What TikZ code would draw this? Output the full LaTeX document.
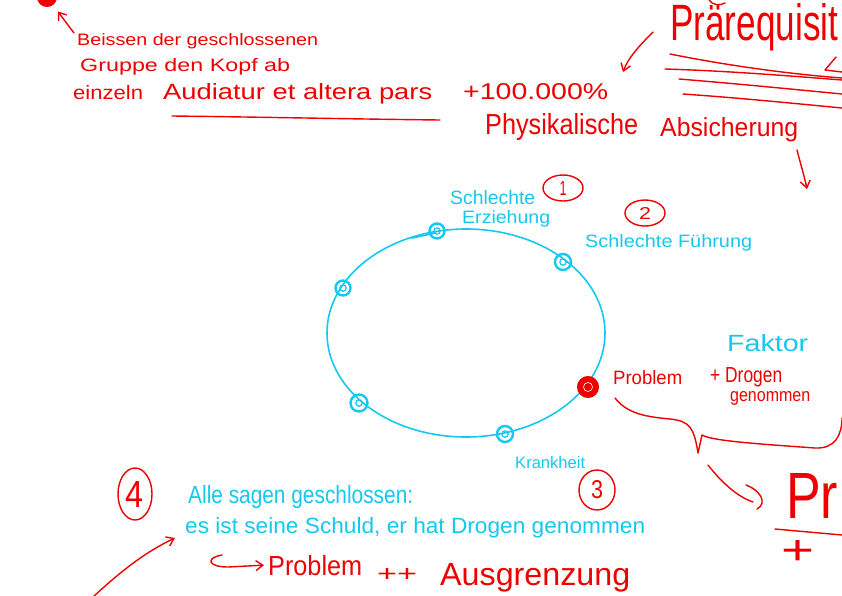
\documentclass[tikz,border=0pt]{standalone}
\usepackage{fontspec}
\setmainfont{Liberation Sans}
\usepackage{graphicx}
\usetikzlibrary{arrows.meta,shapes.geometric}
\definecolor{inkred}{RGB}{238,0,0}
\definecolor{inkcyan}{RGB}{20,200,240}
\newcommand\hw[3]{\resizebox{#1pt}{#2pt}{#3}}
\begin{document}
\begin{tikzpicture}[x=1pt,y=-1pt,
  txt/.style={inner sep=0pt, anchor=base west},
  rtxt/.style={txt, text=inkred},
  ctxt/.style={txt, text=inkcyan},
  rline/.style={draw=inkred, line width=1.4pt, line cap=round, line join=round},
  cline/.style={draw=inkcyan, line width=1.6pt, line cap=round},
  arr/.style={rline, -{Straight Barb[length=7pt,width=10pt]}},
  cdot/.style={circle, draw=inkcyan, line width=2.4pt, minimum size=15pt, inner sep=0pt},
  rdot/.style={circle, draw=inkred, fill=inkred, line width=2pt, minimum size=20pt, inner sep=0pt},
  numring/.style={ellipse, draw=inkred, line width=1.4pt, inner sep=0pt, text=inkred}]
\useasboundingbox (0,0) rectangle (842,595);
\clip (0,0) rectangle (842,595);

% top-left notes
\node[rdot, minimum size=18pt] (blob) at (47,-3) {};
\node[rtxt] (t1) at (77,45) {\hw{241}{12}{Beissen der geschlossenen}};
\node[rtxt] (t2) at (80,71) {\hw{210}{13}{Gruppe den Kopf ab}};
\node[rtxt] (t3a) at (73,99) {\hw{70}{14}{einzeln}};
\node[rtxt] (t3b) at (163,99) {\hw{269}{16}{Audiatur et altera pars}};
\node[rtxt] (t3c) at (463,99) {\hw{145}{16}{+100.000\%}};
\coordinate (a1) at (74,33);
\draw[arr, shorten >=8pt] (a1) -- (blob);
\draw[rline] (172,116) .. controls (260,117) and (350,119) .. (440,120);

% Praerequisit
\node[rtxt] (pre) at (670,40) {\hw{168}{37}{Prärequisit}};
\draw[rline] (709,0) .. controls (712,5) and (720,6) .. (725,3);
\draw[rline] (670,54) .. controls (730,66) and (790,74) .. (842,78);
\draw[rline] (665,69) .. controls (730,71) and (790,76) .. (842,80);
\draw[rline] (679,79) .. controls (740,84) and (790,89) .. (842,94);
\draw[rline] (683,94) .. controls (740,98) and (790,103) .. (842,108);
\draw[rline] (836,57) -- (825,70) -- (842,72);
\coordinate (p1) at (653,32);
\coordinate (p2) at (623,72);
\draw[arr] (p1) .. controls (640,45) and (628,58) .. (p2);

\node[rtxt] (t4a) at (485,134) {\hw{153}{21}{Physikalische}};
\node[rtxt] (t4b) at (660,136) {\hw{138}{19}{Absicherung}};
\coordinate (q1) at (797,150);
\coordinate (q2) at (807,189);
\draw[arr] (q1) .. controls (800,162) and (804,175) .. (q2);

% cycle
\draw[cline] (466,333) ellipse [x radius=139, y radius=104];
\draw[cline] (412,238) -- (436,233);
\node[cdot] (d1) at (437,231) {};
\node[cdot, minimum size=16pt] (d2) at (563,262) {};
\node[cdot] (d3) at (343,288) {};
\node[cdot, minimum size=17pt] (d4) at (359,403) {};
\node[cdot, minimum size=16pt] (d5) at (505,434) {};
\node[rdot] (d6) at (588,387) {};
\foreach \n in {d1,d2,d3,d4,d5} \draw[inkcyan, line width=1.2pt] (\n) circle[radius=3.2];
\draw[white, line width=0.6pt] (d6) circle[radius=4.5];

\node[ctxt] (l1a) at (450,204) {\hw{85}{14}{Schlechte}};
\node[ctxt] (l1b) at (462,223) {\hw{88}{13}{Erziehung}};
\node[numring, minimum width=40pt, minimum height=26pt] (n1) at (563,188) {\hw{7}{14}{1}};
\node[numring, minimum width=40pt, minimum height=26pt] (n2) at (645,213) {\hw{12}{12}{2}};
\node[ctxt] (l2) at (585,247) {\hw{167}{13}{Schlechte Führung}};
\node[ctxt] (l5) at (515,468) {\hw{70}{12}{Krankheit}};
\node[numring, minimum width=36pt, minimum height=40pt] (n3) at (597,490) {\hw{12}{18}{3}};
\node[numring, minimum width=34pt, minimum height=52pt] (n4) at (135,494) {\hw{18}{26}{4}};

% right side
\node[ctxt] (fak) at (727,351) {\hw{81}{17}{Faktor}};
\node[rtxt] (prob) at (613,384) {\hw{69}{14}{Problem}};
\node[rtxt] (drog) at (710,382) {\hw{72}{15}{+ Drogen}};
\node[rtxt] (gen) at (730,401) {\hw{80}{10}{genommen}};
\draw[rline] (615,398) .. controls (628,415) and (650,417) .. (670,419)
  .. controls (690,421) and (694,428) .. (698,453) -- (702,435)
  .. controls (712,441) and (760,444) .. (815,448)
  .. controls (835,449) and (842,435) .. (842,418);
\node[rtxt] (bigpr) at (786,518) {\hw{52}{45}{Pr}};
\coordinate (r1) at (708,465);
\draw[rline] (r1) .. controls (722,483) and (738,497) .. (753,502);
\draw[rline] (746,485) .. controls (760,490) and (768,503) .. (757,509);
\draw[rline] (775,529) -- (842,535);
\node[rtxt] (plus) at (781,564) {\hw{33}{24}{+}};

% bottom
\node[ctxt] (s1) at (188,503) {\hw{225}{18}{Alle sagen geschlossen:}};
\node[ctxt] (s2) at (185,533) {\hw{460}{16}{es ist seine Schuld, er hat Drogen genommen}};
\node[rtxt] (pb) at (268,575) {\hw{94}{20}{Problem}};
\node[rtxt] (pp) at (377,581) {\hw{40}{13}{++}};
\node[rtxt] (ag) at (440,585) {\hw{190}{22}{Ausgrenzung}};
\coordinate (h0) at (222,555);
\draw[arr] (h0) .. controls (205,558) and (208,567) .. (228,567) -- ([xshift=-4pt]pb.west);
\coordinate (b0) at (93,597);
\draw[arr] (b0) .. controls (120,572) and (145,552) .. ([xshift=-10pt,yshift=-5pt]s2.base west);
\end{tikzpicture}
\end{document}
